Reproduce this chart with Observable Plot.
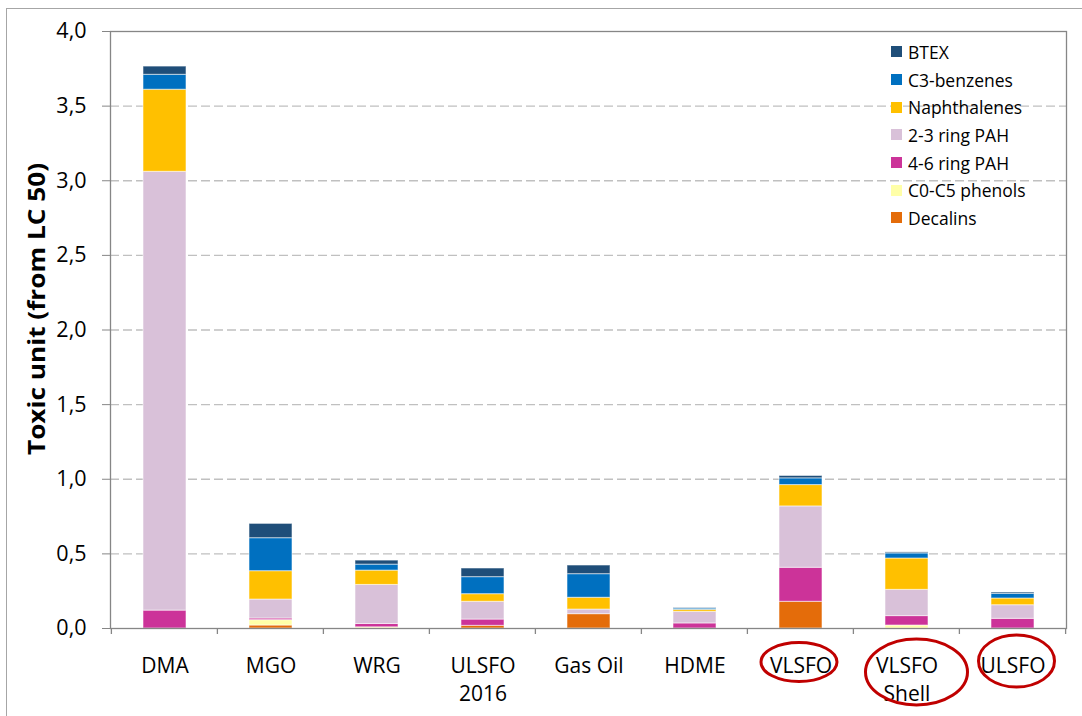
<!DOCTYPE html>
<html><head><meta charset="utf-8">
<script src="https://cdn.jsdelivr.net/npm/d3@7"></script>
<script src="https://cdn.jsdelivr.net/npm/@observablehq/plot@0.6"></script>
<style>
body{margin:0;background:#fff;}
#wrap{position:relative;width:1082px;height:716px;font-family:"Open Sans",sans-serif;overflow:hidden;}
#legend{position:absolute;left:891px;top:38px;font-size:17.5px;color:#000;}
.item{display:flex;align-items:center;height:27.7px;white-space:nowrap;}
.sw{width:11px;height:11px;margin-right:6px;flex:none;}
</style></head><body><div id="wrap"></div>
<script>
// Categories (x axis)
const categories = ["DMA","MGO","WRG","ULSFO\n2016","Gas Oil","HDME","VLSFO","VLSFO\nShell","ULSFO"];
const circled = ["VLSFO","VLSFO\nShell","ULSFO"];
// Series (legend order, top to bottom)
const seriesNames = ["BTEX","C3-benzenes","Naphthalenes","2-3 ring PAH","4-6 ring PAH","C0-C5 phenols","Decalins"];
const seriesColors = ["#1F4E79","#0070C0","#FFC000","#D9C1D9","#CC3399","#FFFFA8","#E46C0A"];
// Values per series, one per category
const btex     = [0.055, 0.096, 0.027, 0.058, 0.058, 0.003, 0.016, 0.007, 0.009];
const c3benz   = [0.100, 0.221, 0.040, 0.114, 0.158, 0.009, 0.045, 0.034, 0.031];
const naphth   = [0.550, 0.190, 0.096, 0.051, 0.079, 0.013, 0.143, 0.210, 0.045];
const pah23    = [2.940, 0.127, 0.262, 0.119, 0.031, 0.078, 0.411, 0.176, 0.091];
const pah46    = [0.120, 0.011, 0.022, 0.042, 0.000, 0.034, 0.228, 0.063, 0.065];
const phenols  = [0.000, 0.036, 0.008, 0.000, 0.000, 0.000, 0.000, 0.020, 0.000];
const decalins = [0.000, 0.020, 0.000, 0.018, 0.096, 0.000, 0.179, 0.000, 0.000];
// Y ticks
const yTicks = [0, 0.5, 1.0, 1.5, 2.0, 2.5, 3.0, 3.5, 4.0];
const yLabel = "Toxic unit (from LC 50)";

const seriesValues = [btex, c3benz, naphth, pah23, pah46, phenols, decalins];
const stackOrder = seriesNames.slice().reverse();
const rows = [];
stackOrder.forEach(s => {
  const vals = seriesValues[seriesNames.indexOf(s)];
  categories.forEach((c, i) => rows.push({category: c, series: s, value: vals[i]}));
});

const W = 1082, H = 716, mL = 110, mR = 16, mT = 31, mB = 88;
const plot = Plot.plot({
  width: W, height: H,
  marginLeft: mL, marginRight: mR, marginTop: mT, marginBottom: mB,
  style: {fontFamily: "'Open Sans', sans-serif", fontSize: "21px", background: "transparent", color: "#000"},
  x: {domain: categories, paddingInner: 0.595, paddingOuter: 0.2975, align: 0.5, label: null},
  y: {domain: [0, 4], label: null},
  color: {domain: seriesNames, range: seriesColors},
  marks: [
    Plot.gridY(yTicks.filter(d => d > 0 && d < 4), {stroke: "#c0c0c0", strokeOpacity: 1, strokeDasharray: "9,4", strokeWidth: 1.3}),
    Plot.barY(rows, {x: "category", y: "value", z: "series", fill: "series", order: stackOrder,
      stroke: "#ffffff", strokeOpacity: 0.55, strokeWidth: 1}),
    Plot.frame({stroke: "#868686", strokeWidth: 1.3}),
    Plot.axisY({ticks: yTicks, tickFormat: d => d.toFixed(1).replace(".", ","), tickSize: 8, tickPadding: 16,
      fontSize: 21.5, stroke: "#868686", label: null}),
    Plot.axisX({tickSize: 0, tickPadding: 24, fontSize: 21, lineHeight: 1.35, label: null})
  ]
});

const wrap = document.getElementById("wrap");
wrap.appendChild(plot);
const svg = d3.select(plot);
const xs = plot.scale("x");
const ys = plot.scale("y");
const step = (W - mL - mR) / categories.length;
const centers = categories.map(c => xs.apply(c) + xs.bandwidth / 2);
const y0 = ys.apply(0);

// category boundary ticks
const g = svg.append("g").attr("stroke", "#868686").attr("stroke-width", 1.3);
const bounds = centers.map(c => c - step / 2).concat([centers[centers.length - 1] + step / 2]);
bounds.forEach(b => g.append("line").attr("x1", b).attr("x2", b).attr("y1", y0).attr("y2", y0 + 6));

// outer chart border
svg.append("rect").attr("x", 6.5).attr("y", 8.5).attr("width", W + 20).attr("height", H + 20)
  .attr("fill", "none").attr("stroke", "#a6a6a6").attr("stroke-width", 1);

// y axis title
svg.append("text").attr("transform", `translate(35,309) rotate(-90)`)
  .attr("text-anchor", "middle").attr("dominant-baseline", "central")
  .attr("font-family", "'Open Sans', sans-serif").attr("font-weight", "bold").attr("font-size", 24)
  .attr("textLength", 292).attr("lengthAdjust", "spacingAndGlyphs")
  .attr("fill", "#000").text(yLabel);

// red ellipses around highlighted labels
const ell = {"VLSFO": [-1.5, 662, 38, 19.5], "VLSFO\nShell": [10, 672, 51, 33], "ULSFO": [4, 661, 38, 26]};
circled.forEach(c => {
  const [dx, cy, rx, ry] = ell[c];
  svg.append("ellipse").attr("cx", centers[categories.indexOf(c)] + dx).attr("cy", cy)
    .attr("rx", rx).attr("ry", ry).attr("fill", "none").attr("stroke", "#C00000").attr("stroke-width", 3);
});

// legend
const legend = document.createElement("div");
legend.id = "legend";
seriesNames.forEach((s, i) => {
  const it = document.createElement("div"); it.className = "item";
  const sw = document.createElement("span"); sw.className = "sw"; sw.style.background = seriesColors[i];
  const tx = document.createElement("span"); tx.textContent = s;
  it.appendChild(sw); it.appendChild(tx); legend.appendChild(it);
});
wrap.appendChild(legend);
</script>
</body></html>
